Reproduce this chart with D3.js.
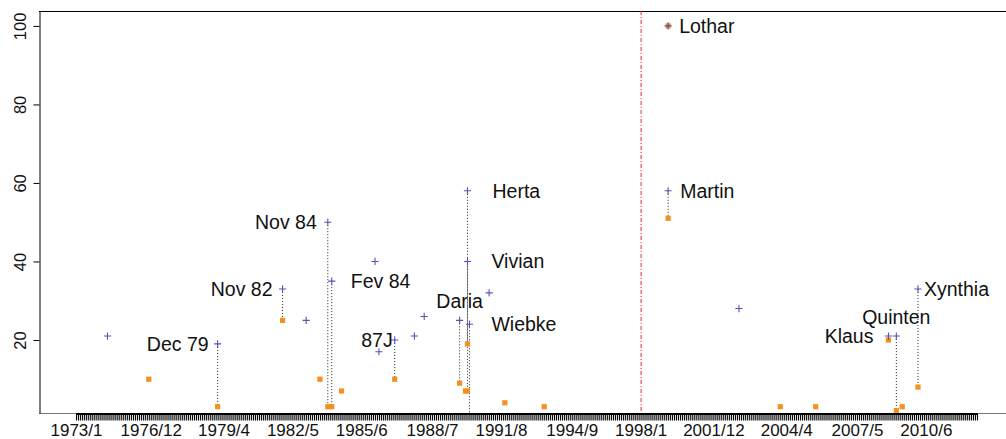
<!DOCTYPE html>
<html>
<head>
<meta charset="utf-8">
<script src="https://cdn.jsdelivr.net/npm/d3@7"></script>
<style>
  body { margin: 0; background: #fff; }
  svg { display: block; }
  text { font-family: "Liberation Sans", Arial, Helvetica, sans-serif; }
</style>
</head>
<body>
<svg id="chart" width="1006" height="439"></svg>
<script>
// Position of each labelled date along the record (one step per observation)
const tickIndex  = [0, 38, 75, 110, 145, 181, 216, 252, 287, 324, 361, 397, 432];
const tickLabels = ["1973/1", "1976/12", "1979/4", "1982/5", "1985/6", "1988/7", "1991/8",
                    "1994/9", "1998/1", "2001/12", "2004/4", "2007/5", "2010/6"];
const lastIndex  = 458;
const breakIndex = 287;   // 1998/1

// Named storms: position, first measure (crosses), second measure (squares)
const stormNames = ["Dec 79", "Nov 82", "Nov 84", "Fev 84", "87J", "Daria", "Herta", "Vivian",
                    "Wiebke", "Lothar", "Martin", "Klaus", "Quinten", "Xynthia"];
const stormIndex = [72, 105, 128, 130, 162, 195, 199, 199, 200, 301, 301, 413, 417, 428];
const stormA     = [19, 33, 50, 35, 20, 25, 58, 40, 24, 100, 58, 21, 21, 33];
const stormB     = [3, 25, 3, 3, 10, 9, 7, 19, 0, 100, 51, 20, 2, 8];

// Other events, unnamed
const otherAIndex = [16, 117, 152, 154, 172, 177, 210, 337];
const otherA      = [21, 25, 40, 17, 21, 26, 32, 28];
const otherBIndex = [37, 124, 135, 198, 218, 238, 358, 376, 420];
const otherB      = [10, 10, 7, 7, 4, 3, 3, 3, 3];

const yTicks = [20, 40, 60, 80, 100];

// label placement: text-anchor, dx, dy (px)
const labelPlacement = {
  "Dec 79": ["end", -9, 0], "Nov 82": ["end", -10, 0], "Nov 84": ["end", -11, 0],
  "Fev 84": ["start", 19, 0], "87J": ["end", -2, 0], "Daria": ["middle", 0, -19],
  "Herta": ["start", 25, 0], "Vivian": ["start", 24, 0], "Wiebke": ["start", 22, 0],
  "Lothar": ["start", 11, 0], "Martin": ["start", 12, 0], "Klaus": ["end", -15, 0],
  "Quinten": ["middle", 0, -19], "Xynthia": ["start", 6, 0]
};

const plot = { left: 39, top: 11, bottom: 413, right: 1012 };
const crossColor = "#5b52b2", squareColor = "#f5901f";

const svg = d3.select("#chart");
const x = d3.scaleLinear().domain([0, lastIndex]).range([76, 977]);
const y = d3.scaleLinear().domain([1.4, 103.8]).range([plot.bottom, plot.top]);

svg.append("defs").append("clipPath").attr("id", "plotArea")
  .append("rect").attr("x", plot.left).attr("y", plot.top)
  .attr("width", plot.right - plot.left).attr("height", plot.bottom - plot.top);

// frame
svg.append("line").attr("x1", plot.left).attr("x2", plot.right)
  .attr("y1", plot.top + 0.5).attr("y2", plot.top + 0.5).attr("stroke", "#000");
svg.append("line").attr("x1", plot.left).attr("x2", plot.right)
  .attr("y1", plot.bottom + 0.5).attr("y2", plot.bottom + 0.5).attr("stroke", "#777");

// x axis: one tick per observation, dates on selected ones
const xAxis = svg.append("g").attr("transform", `translate(0,${plot.bottom + 0.5})`)
  .call(d3.axisBottom(x).tickValues(d3.range(0, lastIndex + 1)).tickSize(7).tickSizeOuter(0).tickFormat(""));
xAxis.select(".domain").attr("stroke", "#000").attr("stroke-width", 2);
xAxis.selectAll(".tick line").attr("stroke", "#000").attr("stroke-width", 1.1);

const xLab = svg.append("g").attr("transform", `translate(0,${plot.bottom})`)
  .call(d3.axisBottom(x).tickValues(tickIndex).tickSize(0)
    .tickFormat((d, i) => tickLabels[i]));
xLab.select(".domain").remove();
xLab.selectAll("text").attr("y", 23).attr("dy", 0)
  .attr("font-size", "17px").attr("fill", "#111")
  .style("font-family", '"Liberation Sans", Arial, sans-serif');

// y axis
const yAxis = svg.append("g").attr("transform", `translate(${plot.left + 0.5},0)`)
  .call(d3.axisLeft(y).tickValues(yTicks).tickSize(6).tickSizeOuter(0));
yAxis.select(".domain").attr("stroke", "#000");
yAxis.selectAll(".tick line").attr("stroke", "#000");
yAxis.selectAll("text").attr("transform", "rotate(-90)")
  .attr("x", 0).attr("y", -14).attr("dy", 0).attr("text-anchor", "middle")
  .attr("font-size", "16.5px").attr("fill", "#111")
  .style("font-family", '"Liberation Sans", Arial, sans-serif');

const data = svg.append("g").attr("clip-path", "url(#plotArea)");

// 1998/1 marker
data.append("line")
  .attr("x1", x(breakIndex) + 0.5).attr("x2", x(breakIndex) + 0.5)
  .attr("y1", plot.top).attr("y2", plot.bottom)
  .attr("stroke", "#ff2020").attr("stroke-width", 1)
  .attr("stroke-dasharray", "4,2,1,2");

const storms = stormNames.map((name, i) => ({ name, i: stormIndex[i], a: stormA[i], b: stormB[i] }));

// connectors between the two measures of each named storm
data.selectAll("line.link").data(storms).join("line").attr("class", "link")
  .attr("x1", d => x(d.i)).attr("x2", d => x(d.i))
  .attr("y1", d => y(d.a)).attr("y2", d => y(d.b))
  .attr("stroke", "#222").attr("stroke-width", 1).attr("stroke-dasharray", "1,2");

// squares
const squares = storms.map(d => ({ i: d.i, v: d.b }))
  .concat(otherBIndex.map((i, k) => ({ i, v: otherB[k] })));
data.selectAll("rect.sq").data(squares).join("rect").attr("class", "sq")
  .attr("x", d => x(d.i) - 2.6).attr("y", d => y(d.v) - 2.6)
  .attr("width", 5.2).attr("height", 5.2).attr("fill", squareColor);

// crosses
const crosses = storms.map(d => ({ i: d.i, v: d.a }))
  .concat(otherAIndex.map((i, k) => ({ i, v: otherA[k] })));
data.selectAll("path.cr").data(crosses).join("path").attr("class", "cr")
  .attr("transform", d => `translate(${x(d.i)},${y(d.v)})`)
  .attr("d", "M-3.6,0H3.6M0,-3.6V3.6")
  .attr("stroke", crossColor).attr("stroke-width", 1.1).attr("fill", "none");

// storm names
svg.selectAll("text.storm").data(storms).join("text").attr("class", "storm")
  .attr("x", d => x(d.i) + labelPlacement[d.name][1])
  .attr("y", d => y(d.a) + labelPlacement[d.name][2])
  .attr("dy", "0.36em")
  .attr("text-anchor", d => labelPlacement[d.name][0])
  .attr("font-size", "19.5px").attr("fill", "#111")
  .text(d => d.name);
</script>
</body>
</html>
